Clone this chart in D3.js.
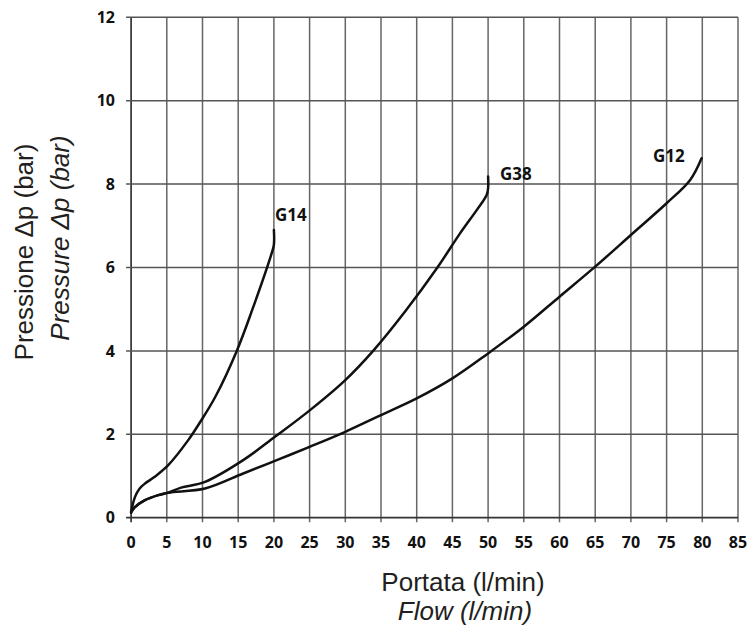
<!DOCTYPE html>
<html><head><meta charset="utf-8">
<script src="https://cdn.jsdelivr.net/npm/d3@7"></script>
<style>body{margin:0;background:#fff}svg{display:block}</style>
</head><body>
<script>
// ---- data ----
const xTicks = [0,5,10,15,20,25,30,35,40,45,50,55,60,65,70,75,80,85];
const yTicks = [0,2,4,6,8,10,12];
const g14Flow = [0, 0.1, 0.55, 1.2, 1.95, 3.3, 5.2, 8.0, 9.7, 11.8, 14.8, 17, 19.7, 20, 20];
const g14Pres = [0.12, 0.22, 0.5, 0.7, 0.82, 0.98, 1.26, 1.86, 2.3, 2.9, 4.0, 5.0, 6.35, 6.55, 6.9];
const g38Flow = [0, 0.5, 1.95, 3.8, 5.2, 7.0, 10.35, 15.7, 20.15, 25.06, 30, 33.9, 38.4, 42.9, 46, 48.5, 49.8, 50, 50];
const g38Pres = [0.15, 0.25, 0.42, 0.54, 0.6, 0.72, 0.86, 1.38, 1.94, 2.58, 3.30, 4.0, 4.95, 6.0, 6.8, 7.4, 7.74, 7.9, 8.18];
const g12Flow = [0, 0.5, 1.95, 3.8, 5.2, 10.35, 15.7, 20.4, 25, 30, 35, 40, 45, 50, 55, 60, 65, 70, 75, 78.3, 79.9];
const g12Pres = [0.12, 0.25, 0.42, 0.54, 0.6, 0.70, 1.06, 1.38, 1.70, 2.06, 2.46, 2.86, 3.34, 3.94, 4.58, 5.30, 6.02, 6.78, 7.54, 8.1, 8.62];
const seriesNames = ["G14", "G38", "G12"];

const W = 751, H = 628;
const svg = d3.select("body").append("svg").attr("width", W).attr("height", H);
const x = d3.scaleLinear().domain([0, 85]).range([131.1, 738]);
const y = d3.scaleLinear().domain([0, 12]).range([517.7, 17.3]);

const grid = svg.append("g");
grid.selectAll("line.v").data(xTicks).join("line")
  .attr("x1", d => x(d)).attr("x2", d => x(d))
  .attr("y1", y(12)).attr("y2", y(0) + 4.5)
  .attr("stroke", d => d === 0 ? "#333" : "#666")
  .attr("stroke-width", d => d === 0 ? 1.7 : 1.5);
grid.selectAll("line.h").data(yTicks).join("line")
  .attr("x1", x(0) - 5).attr("x2", x(85))
  .attr("y1", d => y(d)).attr("y2", d => y(d))
  .attr("stroke", d => d === 0 ? "#333" : "#555")
  .attr("stroke-width", d => d === 0 ? 1.7 : 1.5);

const tickFont = "'Open Sans', sans-serif";
svg.append("g").selectAll("text").data(xTicks).join("text")
  .attr("x", d => x(d)).attr("y", 548)
  .attr("text-anchor", "middle")
  .attr("font-family", tickFont).attr("font-weight", 700).attr("font-size", 16)
  .attr("fill", "#111").text(d => d);
svg.append("g").selectAll("text").data(yTicks).join("text")
  .attr("x", 115).attr("y", d => y(d)).attr("dy", "0.36em")
  .attr("text-anchor", "end")
  .attr("font-family", tickFont).attr("font-weight", 700).attr("font-size", 16)
  .attr("fill", "#111").text(d => d);

const series = [
  {name: seriesNames[0], f: g14Flow, p: g14Pres, lx: 275, ly: 221},
  {name: seriesNames[1], f: g38Flow, p: g38Pres, lx: 500, ly: 180},
  {name: seriesNames[2], f: g12Flow, p: g12Pres, lx: 653, ly: 162}
];
const line = d3.line().x(d => x(d[0])).y(d => y(d[1])).curve(d3.curveCatmullRom.alpha(0.5));
svg.append("g").selectAll("path").data(series).join("path")
  .attr("d", s => line(s.f.map((v, i) => [v, s.p[i]])))
  .attr("fill", "none").attr("stroke", "#111").attr("stroke-width", 2.5)
  .attr("stroke-linejoin", "round").attr("stroke-linecap", "round");
svg.append("g").selectAll("text").data(series).join("text")
  .attr("x", s => s.lx).attr("y", s => s.ly)
  .attr("font-family", tickFont).attr("font-weight", 700).attr("font-size", 17)
  .attr("fill", "#111").text(s => s.name);

const tf = "'Liberation Sans', Arial, sans-serif";
svg.append("text").attr("x", 463).attr("y", 591).attr("text-anchor", "middle")
  .attr("font-family", tf).attr("font-size", 26).attr("fill", "#231f20").text("Portata (l/min)");
svg.append("text").attr("x", 465).attr("y", 620).attr("text-anchor", "middle")
  .attr("font-family", tf).attr("font-size", 26).attr("font-style", "italic").attr("fill", "#231f20").text("Flow (l/min)");
svg.append("text").attr("transform", "translate(33,252) rotate(-90)").attr("text-anchor", "middle")
  .attr("font-family", tf).attr("font-size", 26).attr("fill", "#231f20").text("Pressione Δp (bar)");
svg.append("text").attr("transform", "translate(69,238) rotate(-90)").attr("text-anchor", "middle")
  .attr("font-family", tf).attr("font-size", 26).attr("font-style", "italic").attr("fill", "#231f20").text("Pressure Δp (bar)");
</script>
</body></html>
